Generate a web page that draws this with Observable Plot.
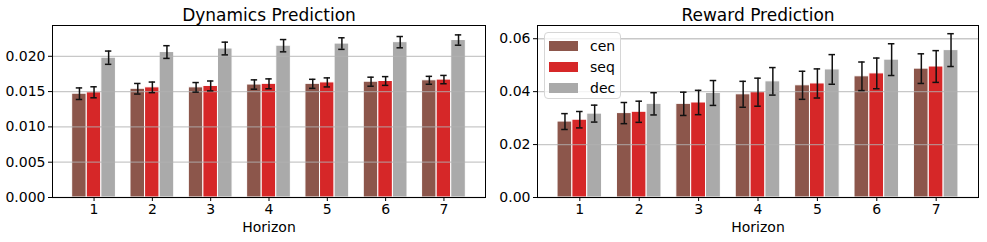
<!DOCTYPE html>
<html>
<head>
<meta charset="utf-8">
<script src="https://cdn.jsdelivr.net/npm/d3@7"></script>
<script src="https://cdn.jsdelivr.net/npm/@observablehq/plot@0.6"></script>
<style>
  html, body { margin: 0; padding: 0; background: white; }
  #wrap { display: flex; flex-direction: row; width: 987px; height: 242px; position: relative; font-family: "DejaVu Sans", sans-serif; }
  .legend { position: absolute; box-sizing: border-box; width: 77px; height: 67px; background: rgba(255,255,255,0.8); border: 1px solid #d6d6d6; border-radius: 4px; font-family: "DejaVu Sans", sans-serif; font-size: 14px; color: #000; padding: 3px 4px 0 4px; }
  .legend .row { display: flex; align-items: center; height: 20.7px; }
  .legend .sw { width: 29px; height: 10px; margin-right: 12px; }
</style>
</head>
<body>
<div id="wrap"></div>
<script>
const horizons = [1, 2, 3, 4, 5, 6, 7];
const series = ["cen", "seq", "dec"];
const colors = ["#8c564b", "#d62728", "#aaaaaa"];

const dynCen = [0.0147, 0.0154, 0.0156, 0.0160, 0.0161, 0.0164, 0.0166];
const dynSeq = [0.0149, 0.0156, 0.0158, 0.0161, 0.0163, 0.0165, 0.0167];
const dynDec = [0.0198, 0.0206, 0.0211, 0.0215, 0.0218, 0.0220, 0.0223];
const dynCenErr = [0.00082, 0.00075, 0.00068, 0.00066, 0.00064, 0.00064, 0.00056];
const dynSeqErr = [0.00078, 0.00075, 0.00070, 0.00070, 0.00064, 0.00062, 0.00059];
const dynDecErr = [0.00094, 0.00090, 0.00090, 0.00087, 0.00082, 0.00080, 0.00073];

const rewCen = [0.0287, 0.0319, 0.0354, 0.0390, 0.0424, 0.0458, 0.0487];
const rewSeq = [0.0294, 0.0324, 0.0359, 0.0398, 0.0431, 0.0469, 0.0495];
const rewDec = [0.0317, 0.0354, 0.0395, 0.0439, 0.0484, 0.0521, 0.0557];
const rewCenErr = [0.0030, 0.0040, 0.0044, 0.0049, 0.0053, 0.0054, 0.0056];
const rewSeqErr = [0.0031, 0.0040, 0.0046, 0.0053, 0.0055, 0.0058, 0.0060];
const rewDecErr = [0.0032, 0.0042, 0.0047, 0.0052, 0.0056, 0.0060, 0.0062];

const dynTicks = [0, 0.005, 0.010, 0.015, 0.020];
const rewTicks = [0, 0.02, 0.04, 0.06];

const barW = 0.25;
const offsets = [-0.25, 0, 0.25];

function table(vals, errs) {
  const rows = [];
  series.forEach((s, si) => {
    horizons.forEach((h, i) => {
      rows.push({h, s, pos: h + offsets[si], v: vals[si][i], e: errs[si][i]});
    });
  });
  return rows;
}

function makePlot({title, rows, ticks, fmt, ymax, width, ml, mr}) {
  const cap = 0.055;
  return Plot.plot({
    width, height: 242,
    marginLeft: ml, marginRight: mr, marginTop: 25, marginBottom: 45,
    style: {fontFamily: "DejaVu Sans, sans-serif", fontSize: "14px", color: "black", background: "white"},
    x: {domain: [0.2875, 7.7125]},
    y: {domain: [0, ymax]},
    color: {domain: series, range: colors},
    marks: [
      Plot.rect(rows, {x1: d => d.pos - barW / 2, x2: d => d.pos + barW / 2, y1: 0, y2: "v", fill: "s", stroke: "white", strokeWidth: 1}),
      Plot.gridY(ticks, {stroke: "#b0b0b0", strokeOpacity: 0.7, strokeWidth: 1.3}),
      Plot.ruleX(rows, {x: "pos", y1: d => d.v - d.e, y2: d => d.v + d.e, stroke: "#111", strokeWidth: 1.5}),
      Plot.ruleY(rows, {y: d => d.v - d.e, x1: d => d.pos - cap, x2: d => d.pos + cap, stroke: "#111", strokeWidth: 1.5}),
      Plot.ruleY(rows, {y: d => d.v + d.e, x1: d => d.pos - cap, x2: d => d.pos + cap, stroke: "#111", strokeWidth: 1.5}),
      Plot.axisY(ticks, {tickFormat: fmt, tickSize: 4, tickPadding: 3, label: null, fontSize: 14}),
      Plot.axisX(horizons, {tickFormat: d => String(d), tickSize: 4, tickPadding: 3, label: "Horizon", labelAnchor: "center", labelArrow: "none", labelOffset: 34, fontSize: 14}),
      Plot.frame({stroke: "black", strokeWidth: 1}),
      Plot.text([title], {frameAnchor: "top", dy: -5, lineAnchor: "bottom", fontSize: 17, fill: "black"})
    ]
  });
}

const wrap = document.getElementById("wrap");
wrap.appendChild(makePlot({
  title: "Dynamics Prediction",
  rows: table([dynCen, dynSeq, dynDec], [dynCenErr, dynSeqErr, dynDecErr]),
  ticks: dynTicks, fmt: d3.format(".3f"), ymax: 0.02436,
  width: 490, ml: 52, mr: 5
}));
wrap.appendChild(makePlot({
  title: "Reward Prediction",
  rows: table([rewCen, rewSeq, rewDec], [rewCenErr, rewSeqErr, rewDecErr]),
  ticks: rewTicks, fmt: d3.format(".2f"), ymax: 0.065,
  width: 497, ml: 47, mr: 9
}));

const lg = document.createElement("div");
lg.className = "legend";
lg.style.left = "544px";
lg.style.top = "32px";
series.forEach((s, i) => {
  const row = document.createElement("div");
  row.className = "row";
  const sw = document.createElement("div");
  sw.className = "sw";
  sw.style.background = colors[i];
  row.appendChild(sw);
  const t = document.createElement("span");
  t.textContent = s;
  row.appendChild(t);
  lg.appendChild(row);
});
wrap.appendChild(lg);
</script>
</body>
</html>
